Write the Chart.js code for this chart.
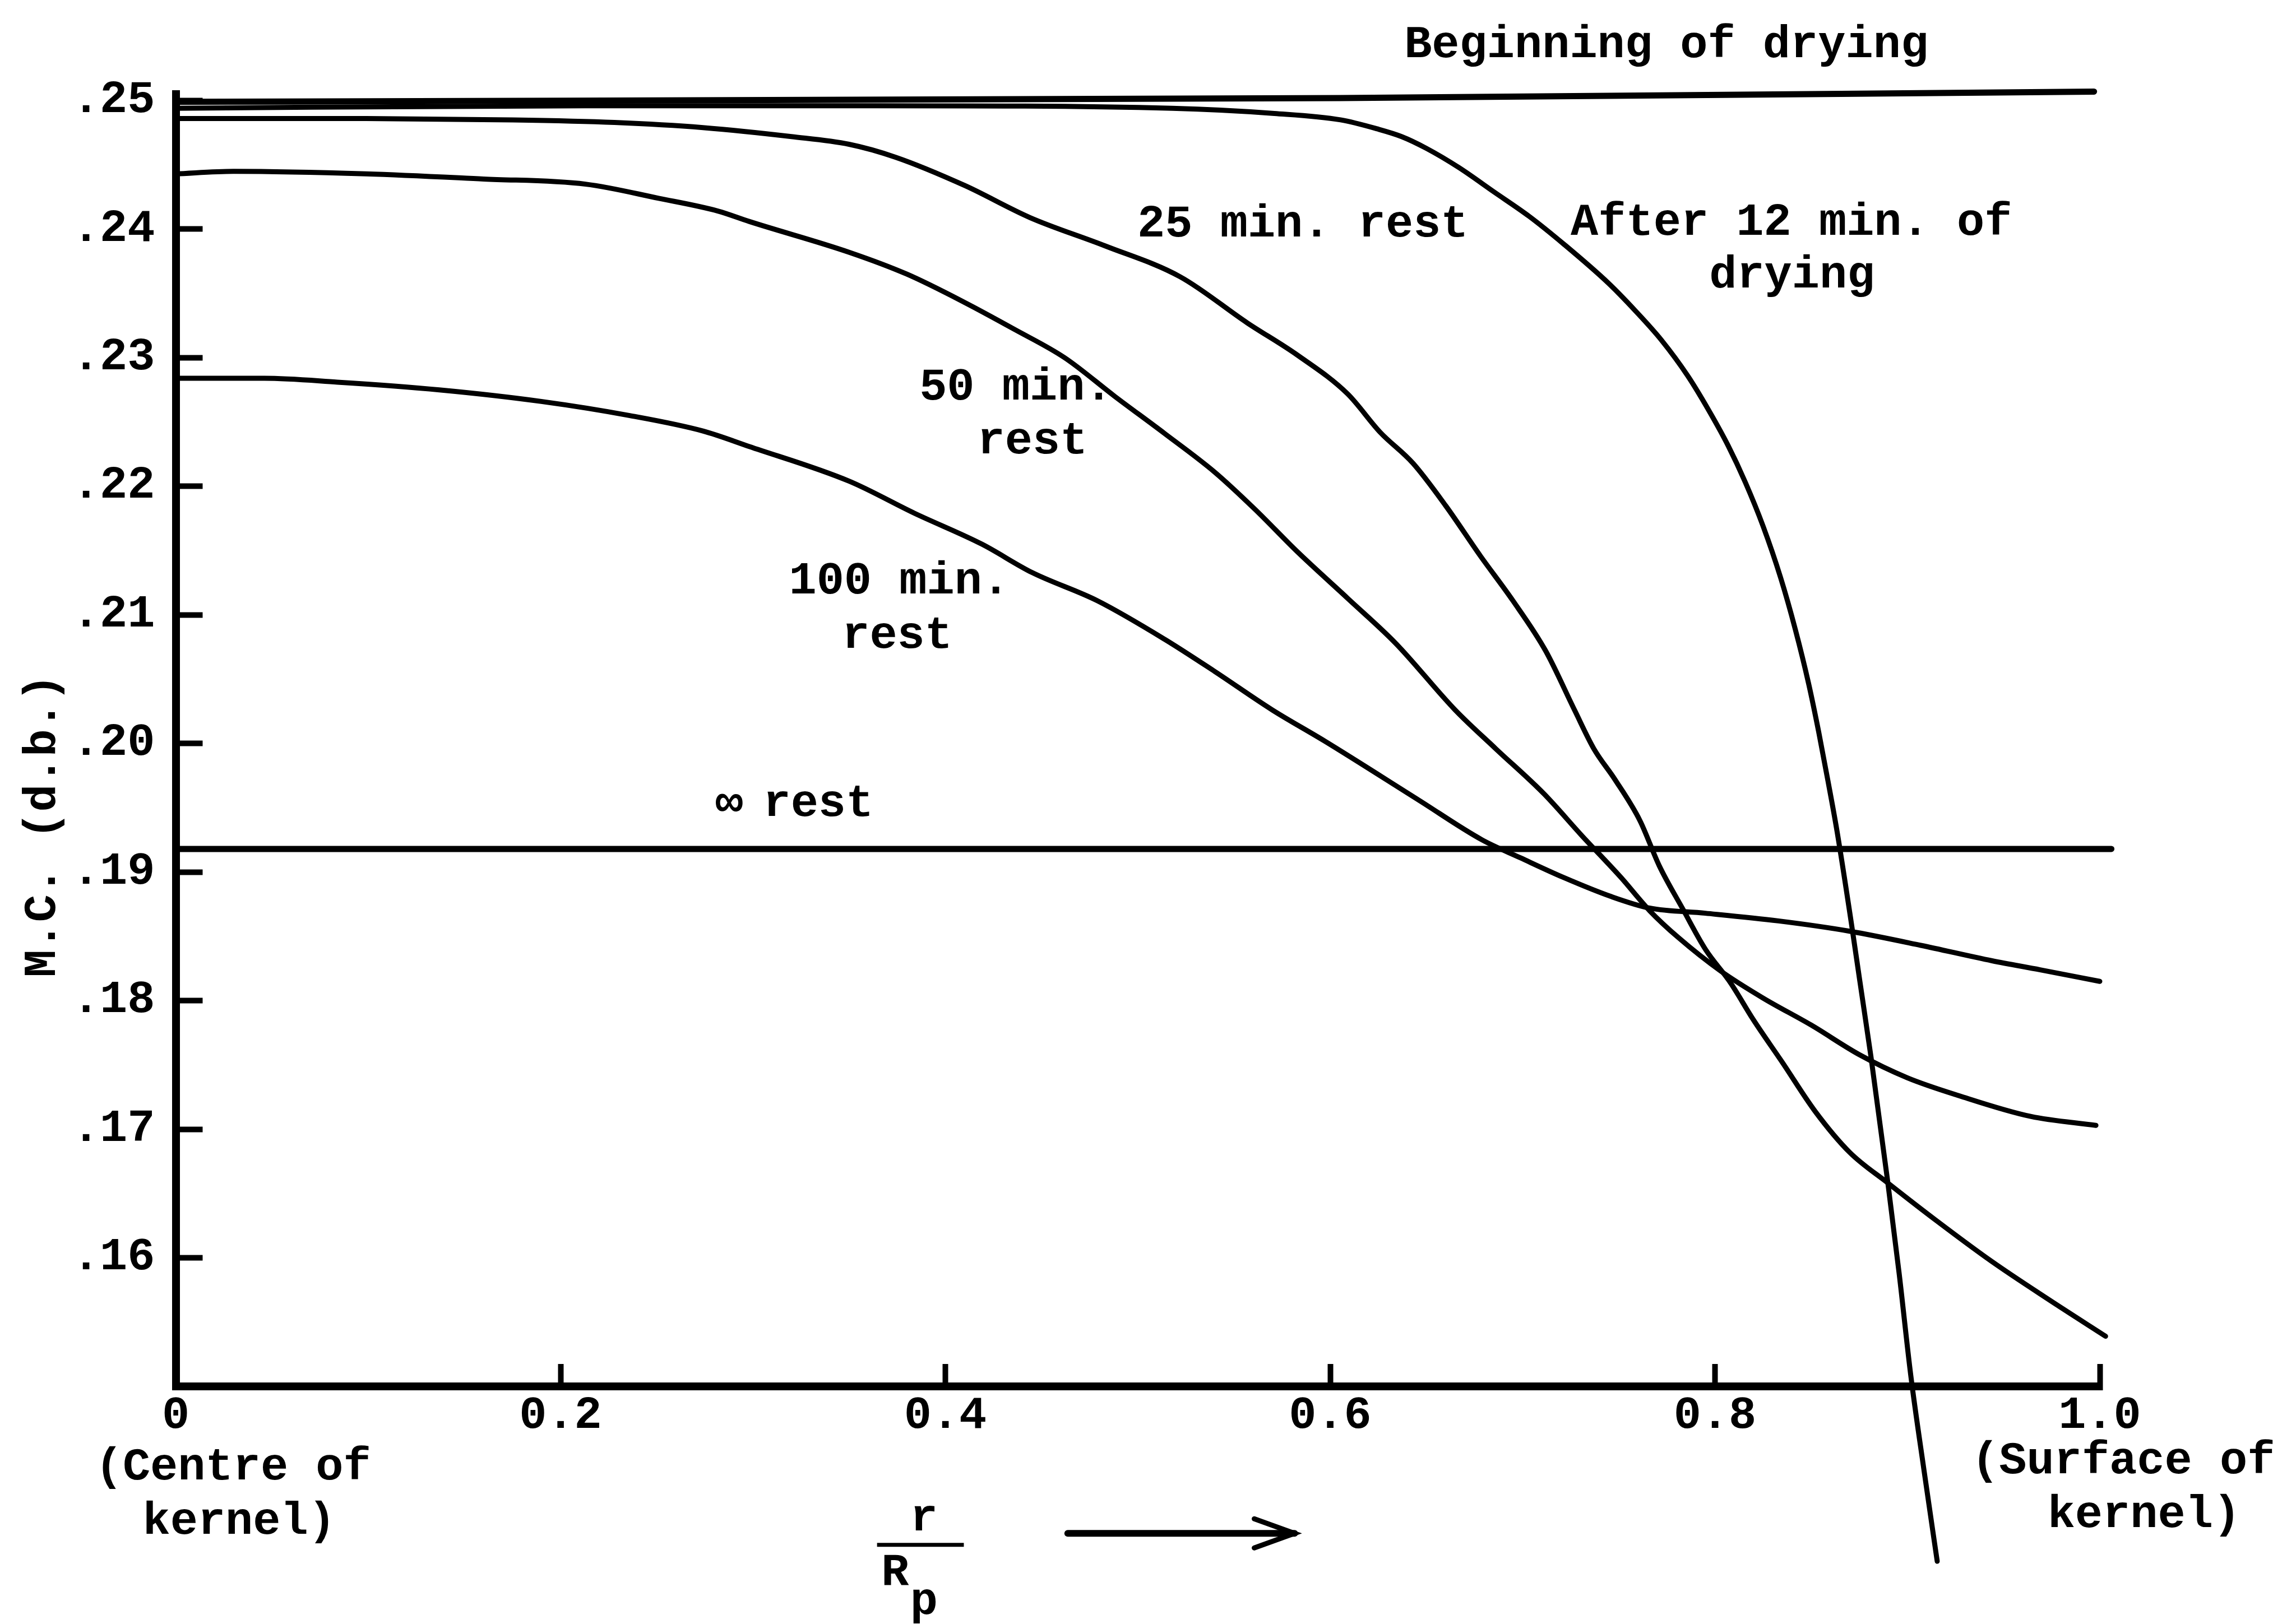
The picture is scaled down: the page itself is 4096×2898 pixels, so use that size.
<!DOCTYPE html>
<html>
<head>
<meta charset="utf-8">
<title>Moisture content profiles in the kernel</title>
<script src="https://cdn.jsdelivr.net/npm/chart.js@4.4.1/dist/chart.umd.min.js"></script>
<style>
  html, body { margin: 0; padding: 0; background: #fff; overflow: hidden; }
  #wrap { width: 4096px; height: 2898px; }
</style>
</head>
<body>
<div id="wrap"><canvas id="mcChart" width="4096" height="2898"></canvas></div>
<script>
// r/Rp on x, moisture content (d.b.) on y
const xTicks = [0, 0.2, 0.4, 0.6, 0.8, 1.0];
const xTickLabels = ['0', '0.2', '0.4', '0.6', '0.8', '1.0'];
const yTicks = [0.16, 0.17, 0.18, 0.19, 0.20, 0.21, 0.22, 0.23, 0.24, 0.25];
const yTickLabels = ['.16', '.17', '.18', '.19', '.20', '.21', '.22', '.23', '.24', '.25'];

const beginX = [0, 0.605, 0.997];
const beginY = [0.2499, 0.2502, 0.2507];

const after12X = [0, 0.213, 0.365, 0.518, 0.571, 0.6054, 0.6244, 0.6371, 0.6498, 0.6668, 0.6851, 0.7034, 0.7217, 0.7446, 0.7583, 0.7720,
                  0.7858, 0.7968, 0.8067, 0.8158, 0.8250, 0.8341, 0.8417, 0.8486, 0.8539, 0.8587, 0.8634, 0.8711, 0.8752, 0.8811, 0.8897,
                  0.8957, 0.9018, 0.9087, 0.9155];
const after12Y = [0.2494, 0.2496, 0.2496, 0.2494, 0.2490, 0.2485, 0.2478, 0.2472, 0.2463, 0.2448, 0.2429, 0.2410, 0.2388, 0.2358, 0.2337, 0.2314,
                  0.2286, 0.2259, 0.2232, 0.2203, 0.2169, 0.2129, 0.2089, 0.2047, 0.2009, 0.1971, 0.1932, 0.1858, 0.1816, 0.1756, 0.1660,
                  0.1588, 0.1508, 0.1434, 0.1364];

const rest25X = [0, 0.099, 0.175, 0.228, 0.274, 0.320, 0.350, 0.374, 0.410, 0.444, 0.483, 0.522, 0.557, 0.583, 0.609, 0.626, 0.643, 0.660, 0.678,
                 0.695, 0.712, 0.727, 0.737, 0.748, 0.761, 0.771, 0.783, 0.795, 0.808, 0.820, 0.835, 0.852, 0.870, 0.890, 0.915, 0.944, 0.974, 1.003];
const rest25Y = [0.2486, 0.2486, 0.2485, 0.2483, 0.2479, 0.2472, 0.2466, 0.2456, 0.2434, 0.2409, 0.2387, 0.2363, 0.2327, 0.2302, 0.2272, 0.2242, 0.2218, 0.2185, 0.2146,
                 0.2111, 0.2072, 0.2026, 0.1996, 0.1972, 0.1940, 0.1905, 0.1872, 0.1840, 0.1814, 0.1785, 0.1752, 0.1714, 0.1682, 0.1658, 0.1629, 0.1597, 0.1567, 0.1539];

const rest50X = [0, 0.030, 0.099, 0.160, 0.213, 0.251, 0.282, 0.298, 0.350, 0.380, 0.410, 0.436, 0.462, 0.488, 0.514, 0.540, 0.561, 0.583,
                 0.609, 0.634, 0.665, 0.686, 0.711, 0.731, 0.751, 0.766, 0.781, 0.803, 0.825, 0.850, 0.875, 0.900, 0.927, 0.964, 0.998];
const rest50Y = [0.2443, 0.2445, 0.2443, 0.2439, 0.2435, 0.2424, 0.2414, 0.2406, 0.2382, 0.2365, 0.2343, 0.2322, 0.2300, 0.2270, 0.2241, 0.2211, 0.2182, 0.2149,
                 0.2113, 0.2078, 0.2026, 0.1996, 0.1961, 0.1928, 0.1896, 0.1870, 0.1849, 0.1823, 0.1802, 0.1781, 0.1758, 0.1740, 0.1726, 0.1710, 0.1703];

const rest100X = [0, 0.046, 0.084, 0.137, 0.190, 0.236, 0.274, 0.298, 0.350, 0.384, 0.419, 0.445, 0.479, 0.514, 0.540, 0.570, 0.597,
                  0.646, 0.679, 0.699, 0.721, 0.746, 0.766, 0.795, 0.833, 0.870, 0.907, 0.944, 0.969, 1.000];
const rest100Y = [0.2284, 0.2284, 0.2281, 0.2275, 0.2266, 0.2255, 0.2243, 0.2231, 0.2204, 0.2179, 0.2155, 0.2133, 0.2111, 0.2081, 0.2056, 0.2026, 0.2002,
                  0.1956, 0.1925, 0.1911, 0.1896, 0.1881, 0.1872, 0.1868, 0.1862, 0.1854, 0.1843, 0.1831, 0.1824, 0.1815];

const restInfX = [0, 1.006];
const restInfY = [0.1918, 0.1918];

// hand-typed labels, anchored in data units (left edge, baseline)
const noteText = ['Beginning of drying', '25 min. rest', 'After 12 min. of', 'drying', '50 min.', 'rest', '100 min.', 'rest',
                  '\u221e', 'rest', '(Centre of', 'kernel)', '(Surface of', 'kernel)', 'r', 'R', 'p'];
const noteX = [0.6385, 0.4998, 0.7250, 0.7970, 0.3865, 0.4166, 0.3187, 0.3463,
               0.2805, 0.3053, -0.0419, -0.0172, 0.9333, 0.9728, 0.3817, 0.3667, 0.3817];
const noteY = [0.25337, 0.23941, 0.23958, 0.23546, 0.22673, 0.22257, 0.21167, 0.20746,
               0.19437, 0.19437, 0.14275, 0.13853, 0.14324, 0.13906, 0.13881, 0.13455, 0.13232];

const FONT_FAMILY = '"Liberation Mono", "DejaVu Sans Mono", monospace';
const FONT = 'bold 82px ' + FONT_FAMILY;

Chart.defaults.font.family = FONT_FAMILY;
Chart.defaults.font.size = 82;
Chart.defaults.font.weight = 'bold';
Chart.defaults.color = '#000';

function toPoints(xs, ys) {
    return xs.map((x, i) => ({ x: x, y: ys[i] }));
}

const extras = {
    id: 'extras',
    afterDraw(chart) {
        const ctx = chart.ctx;
        const xs = chart.scales.x;
        const ys = chart.scales.y;

        ctx.save();
        ctx.strokeStyle = '#000';
        ctx.fillStyle = '#000';

        ctx.font = FONT;
        ctx.textAlign = 'left';
        ctx.textBaseline = 'alphabetic';
        noteText.forEach((t, i) => {
            ctx.fillText(t, xs.getPixelForValue(noteX[i]), ys.getPixelForValue(noteY[i]));
        });

        // fraction bar of r/Rp
        ctx.lineWidth = 7;
        ctx.lineCap = 'butt';
        ctx.beginPath();
        ctx.moveTo(xs.getPixelForValue(0.3645), ys.getPixelForValue(0.13768));
        ctx.lineTo(xs.getPixelForValue(0.4096), ys.getPixelForValue(0.13768));
        ctx.stroke();

        // arrow
        const ay = ys.getPixelForValue(0.13857);
        const ax1 = xs.getPixelForValue(0.4636);
        const ax2 = xs.getPixelForValue(0.5815);
        ctx.lineWidth = 12;
        ctx.lineCap = 'round';
        ctx.beginPath();
        ctx.moveTo(ax1, ay);
        ctx.lineTo(ax2, ay);
        ctx.stroke();
        ctx.lineWidth = 9;
        ctx.beginPath();
        ctx.moveTo(ax2 - 72, ay - 26);
        ctx.lineTo(ax2, ay);
        ctx.lineTo(ax2 - 72, ay + 26);
        ctx.stroke();

        // y axis title
        ctx.translate(xs.getPixelForValue(-0.0627), ys.getPixelForValue(0.19361));
        ctx.rotate(-Math.PI / 2);
        ctx.textAlign = 'center';
        ctx.fillText('M.C. (d.b.)', 0, 0);
        ctx.restore();
    }
};

const series = [
    { label: 'Beginning of drying', data: toPoints(beginX, beginY), borderWidth: 11 },
    { label: 'After 12 min. of drying', data: toPoints(after12X, after12Y), borderWidth: 9 },
    { label: '25 min. rest', data: toPoints(rest25X, rest25Y), borderWidth: 9 },
    { label: '50 min. rest', data: toPoints(rest50X, rest50Y), borderWidth: 9 },
    { label: '100 min. rest', data: toPoints(rest100X, rest100Y), borderWidth: 9 },
    { label: '\u221e rest', data: toPoints(restInfX, restInfY), borderWidth: 11 }
].map(d => Object.assign({
    borderColor: '#000',
    backgroundColor: '#000',
    pointRadius: 0,
    fill: false,
    clip: false,
    cubicInterpolationMode: 'monotone',
    borderCapStyle: 'round',
    borderJoinStyle: 'round'
}, d));

const ctx = document.getElementById('mcChart').getContext('2d');
const chart = new Chart(ctx, {
    type: 'line',
    data: { datasets: series },
    plugins: [extras],
    options: {
        responsive: false,
        animation: false,
        devicePixelRatio: 1,
        layout: { padding: { top: 168, right: 350, bottom: 0, left: 0 } },
        plugins: {
            legend: { display: false },
            tooltip: { enabled: false }
        },
        scales: {
            x: {
                type: 'linear',
                min: 0,
                max: 1,
                afterBuildTicks: s => { s.ticks = xTicks.map(v => ({ value: v })); },
                afterFit: s => { s.height = 424; s.paddingLeft = 0; s.paddingRight = 0; },
                // negative tick length puts the tick marks inside the plot
                grid: { drawOnChartArea: false, drawTicks: true, tickLength: -40, tickColor: '#000', tickWidth: 10, color: '#000' },
                border: { display: true, color: '#000', width: 14 },
                ticks: {
                    autoSkip: false,
                    maxRotation: 0,
                    minRotation: 0,
                    padding: 44,
                    color: '#000',
                    callback: (v, i) => xTickLabels[i]
                }
            },
            y: {
                type: 'linear',
                min: 0.15,
                max: 0.2505,
                afterBuildTicks: s => { s.ticks = yTicks.map(v => ({ value: v })); },
                afterFit: s => { s.width = 313.5; s.paddingTop = 0; s.paddingBottom = 0; },
                grid: { drawOnChartArea: false, drawTicks: true, tickLength: -48, tickColor: '#000', tickWidth: 10, color: '#000' },
                border: { display: true, color: '#000', width: 14 },
                ticks: {
                    autoSkip: false,
                    padding: 85,
                    color: '#000',
                    callback: (v, i) => yTickLabels[i]
                }
            }
        }
    }
});
</script>
</body>
</html>
